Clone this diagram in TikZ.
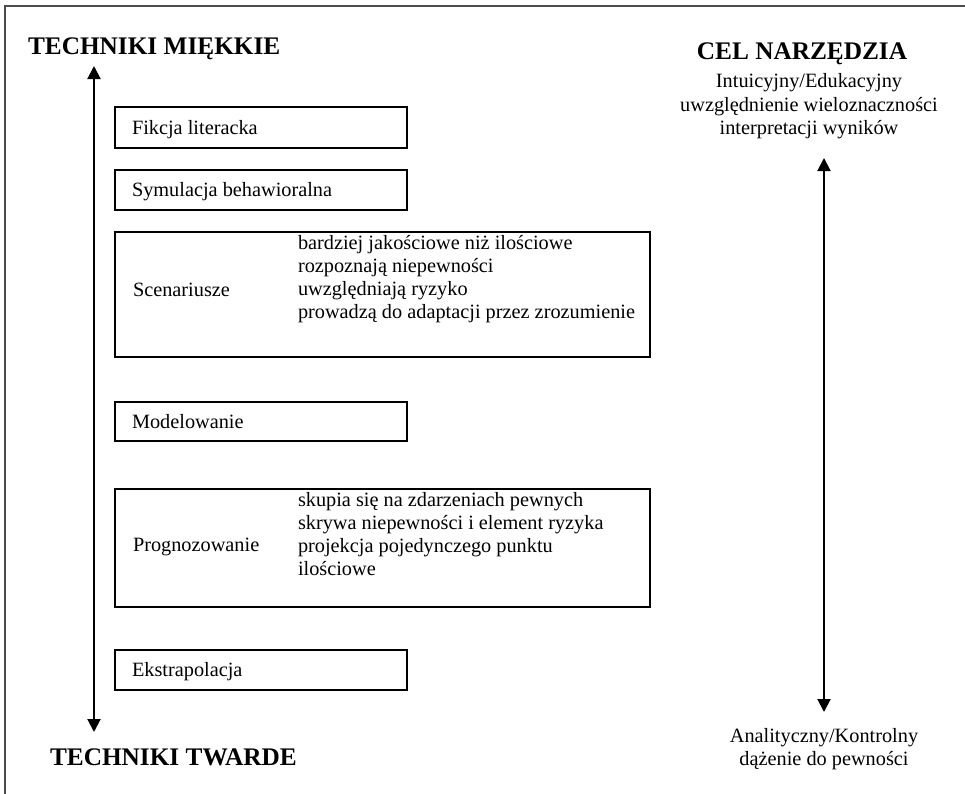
\documentclass[tikz,border=0pt]{standalone}
\usepackage{fontspec}
\setmainfont{Liberation Serif}
\usetikzlibrary{arrows.meta}
\begin{document}
\begin{tikzpicture}[x=1bp,y=-1bp,
  every node/.style={inner sep=0pt, outer sep=0pt},
  txt/.style={font=\fontsize{20.3bp}{23bp}\selectfont, anchor=base west},
  head/.style={font=\fontsize{25.3bp}{29bp}\selectfont\bfseries, anchor=base west},
  tbox/.style={draw=black, line width=1.3bp, anchor=north west},
  axis/.style={line width=2bp, {Triangle[length=13bp,width=13bp]}-{Triangle[length=13bp,width=13bp]}},
  frame/.style={draw=black!70, line width=1.6bp}]
\useasboundingbox (0,0) rectangle (965,794);
\draw[frame] (5,794) -- (5,6) -- (965,6);

% headings
\node[head] (soft) at (28,55) {TECHNIKI MIĘKKIE};
\node[head] (hard) at (50,765) {TECHNIKI TWARDE};
\node[head, anchor=base] (goal) at (802,60) {CEL NARZĘDZIA};

% left axis
\coordinate (lt) at (94,66);
\coordinate (lb) at (94,732);
\draw[axis] (lt) -- (lb);

% right axis
\coordinate (rt) at (824,158);
\coordinate (rb) at (824,712);
\draw[axis] (rt) -- (rb);

\node[txt, anchor=base] (goaltop) at (809,88) {\begin{tabular}[t]{@{}c@{}}Intuicyjny/Edukacyjny\\uwzględnienie wieloznaczności\\interpretacji wyników\end{tabular}};
\node[txt, anchor=base] (goalbot) at (824,742) {\begin{tabular}[t]{@{}c@{}}Analityczny/Kontrolny\\dążenie do pewności\end{tabular}};

% boxes
\node[tbox, minimum width=292bp, minimum height=41bp] (fikB) at (115,107) {};
\node[txt] (fikT) at (132,134) {Fikcja literacka};

\node[tbox, minimum width=292bp, minimum height=40bp] (symB) at (115,170) {};
\node[txt] (symT) at (132,196) {Symulacja behawioralna};

\node[tbox, minimum width=535bp, minimum height=125bp] (scenB) at (115,232) {};
\node[txt] (scenT) at (133,296) {Scenariusze};
\node[txt] (scenD) at (298,249) {\begin{tabular}[t]{@{}l@{}}bardziej jakościowe niż ilościowe\\rozpoznają niepewności\\uwzględniają ryzyko\\prowadzą do adaptacji przez zrozumienie\end{tabular}};

\node[tbox, minimum width=292bp, minimum height=39bp] (modB) at (115,402) {};
\node[txt] (modT) at (132,428) {Modelowanie};

\node[tbox, minimum width=535bp, minimum height=118bp] (progB) at (115,489) {};
\node[txt] (progT) at (133,551) {Prognozowanie};
\node[txt] (progD) at (298,506) {\begin{tabular}[t]{@{}l@{}}skupia się na zdarzeniach pewnych\\skrywa niepewności i element ryzyka\\projekcja pojedynczego punktu\\ilościowe\end{tabular}};

\node[tbox, minimum width=292bp, minimum height=40bp] (ekB) at (115,650) {};
\node[txt] (ekT) at (132,676) {Ekstrapolacja};
\end{tikzpicture}
\end{document}
